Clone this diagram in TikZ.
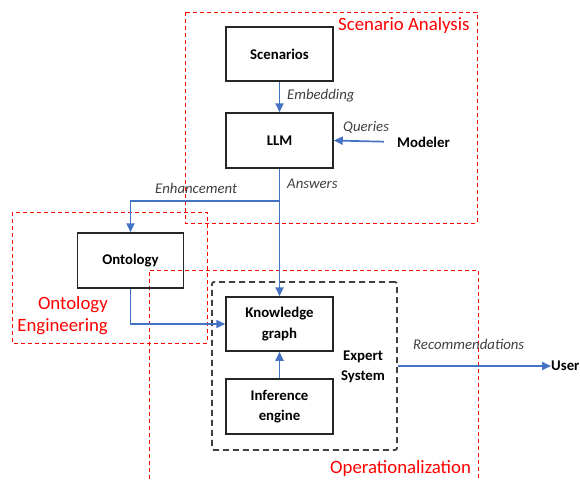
\documentclass[tikz,border=0pt]{standalone}
\usepackage{fontspec}
\setmainfont{Carlito}
\usetikzlibrary{arrows.meta}
\definecolor{cblue}{HTML}{4472C4}
\definecolor{cred}{HTML}{FF0000}
\definecolor{cgray}{HTML}{404040}
\tikzset{
  box/.style={draw=black!85, line width=1.5pt, minimum width=107pt, minimum height=54pt, inner sep=2pt, align=center, font=\fontsize{14.8}{20.5}\selectfont\bfseries},
  plain/.style={inner sep=0pt, font=\fontsize{14.8}{20.5}\selectfont\bfseries},
  elabel/.style={inner sep=0pt, anchor=west, text=cgray, font=\fontsize{14.8}{18}\selectfont\itshape},
  rlabel/.style={inner sep=0pt, text=cred, font=\fontsize{18.8}{22}\selectfont},
  region/.style={draw=cred, line width=1pt, dash pattern=on 4pt off 3pt},
  arr/.style={draw=cblue, line width=1.7pt, -{Triangle[length=9pt,width=8pt]}},
  esbox/.style={draw=cgray, line width=1.8pt, dash pattern=on 6pt off 4pt, rounded corners=2pt, minimum width=185pt, minimum height=168pt, inner sep=0pt}
}
\begin{document}
\begin{tikzpicture}[x=1pt,y=-1pt]
\useasboundingbox (0,0) rectangle (580,479);
% regions
\draw[region] (185,12) rectangle (477,223);
\draw[region] (12,212) rectangle (207,343);
\draw[region] (149,479) -- (149,270) -- (478,270) -- (478,479);
\node[rlabel, anchor=west] (lsa) at (338,25) {Scenario Analysis};
\node[rlabel, anchor=east, align=right] (loe) at (108,316) {Ontology\\Engineering};
\node[rlabel, anchor=west] (lop) at (330,468) {Operationalization};
% expert system
\node[esbox] (es) at (304.5,366) {};
% boxes
\node[box] (scen) at (279.5,54) {Scenarios};
\node[box, minimum height=55pt] (llm) at (279.5,140.5) {LLM};
\node[box, minimum width=106pt, minimum height=55pt] (ont) at (130.5,260.5) {Ontology};
\node[box] (kg) at (279.5,324) {Knowledge\\graph};
\node[box, minimum height=55pt] (ie) at (279.5,406.5) {Inference\\engine};
\node[plain, align=center] (esl) at (363,367) {Expert\\System};
\node[plain, anchor=west] (mod) at (397,142) {Modeler};
\node[plain, anchor=west] (user) at (551,366) {User};
% connectors
\draw[arr] (scen) -- (llm);
\draw[arr, shorten <=13pt] (mod.west) -- (llm.east);
\draw[arr] (llm) -- (kg);
\coordinate (j) at (279.5,201);
\draw[arr] (j) -| (ont.north);
\draw[arr] (ont.south) |- (kg.west);
\draw[arr] (ie) -- (kg);
\draw[arr] (es.east) -- (user.west);
% edge labels
\node[elabel] (le) at (287,96) {Embedding};
\node[elabel] (lq) at (343,127) {Queries};
\node[elabel] (la) at (287,184) {Answers};
\node[elabel] (len) at (155,188) {Enhancement};
\node[elabel] (lr) at (413,344) {Recommendations};
\end{tikzpicture}
\end{document}
